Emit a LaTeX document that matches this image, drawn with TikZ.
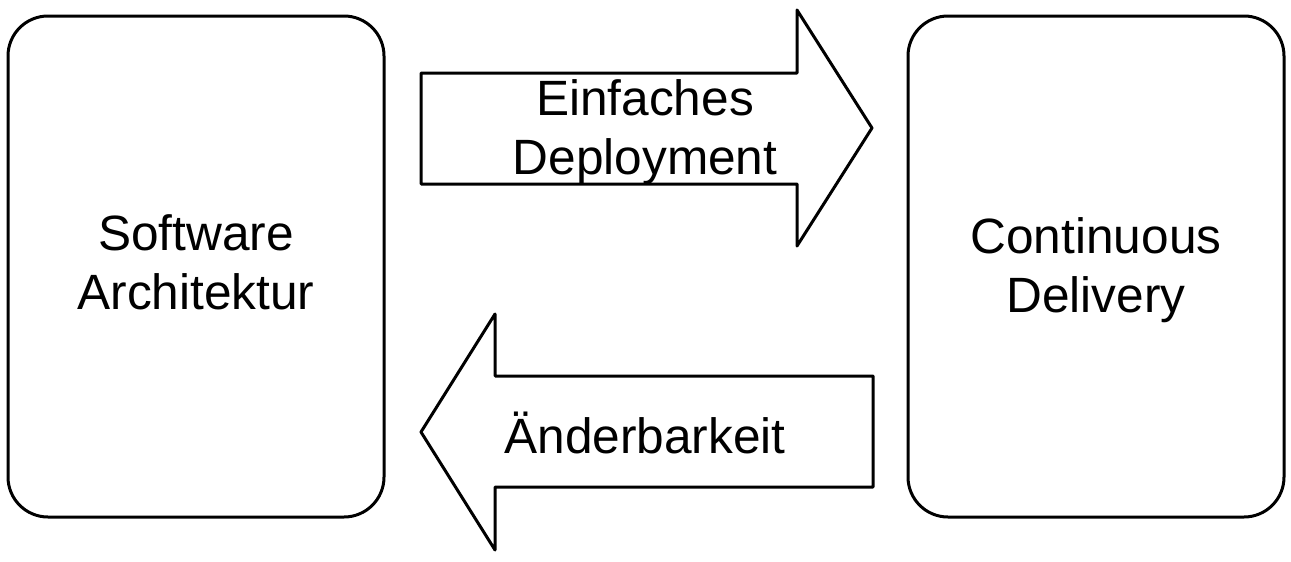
\documentclass[tikz,border=0pt]{standalone}
\usepackage{fontspec}
\setmainfont{Liberation Sans}
\usetikzlibrary{positioning}

\tikzset{
  block/.style={draw, line width=1.5pt, rounded corners=20pt,
    minimum width=188pt, minimum height=250.5pt, inner sep=0pt},
  bigarrow/.style={draw, line width=1.5pt, line join=round},
  label/.style={align=center, font=\fontsize{24.8}{29.5}\selectfont}
}

\begin{document}
\begin{tikzpicture}[x=0.5pt,y=-0.5pt]
    \useasboundingbox (0,0) rectangle (1291,562);
    \node[block] (archbox) at (196,266.5) {};
    \node[label] (arch) at (196,262.5) {Software\\Architektur};
    \node[block] (cdbox) at (1096,266.5) {};
    \node[label] (cd) at (1096,270) {Continuous\\Delivery};
    % arrow to the right
    \draw[bigarrow] (421,73) -- (797,73) -- (797,10) -- (872,128) -- (797,246) -- (797,184) -- (421,184) -- cycle;
    \node[label] (deploy) at (645,132) {Einfaches\\Deployment};
    % arrow to the left
    \draw[bigarrow] (873,376) -- (495,376) -- (495,314) -- (421,432) -- (495,550) -- (495,487) -- (873,487) -- cycle;
    \node[label] (change) at (645,433) {Änderbarkeit};
\end{tikzpicture}
\end{document}
